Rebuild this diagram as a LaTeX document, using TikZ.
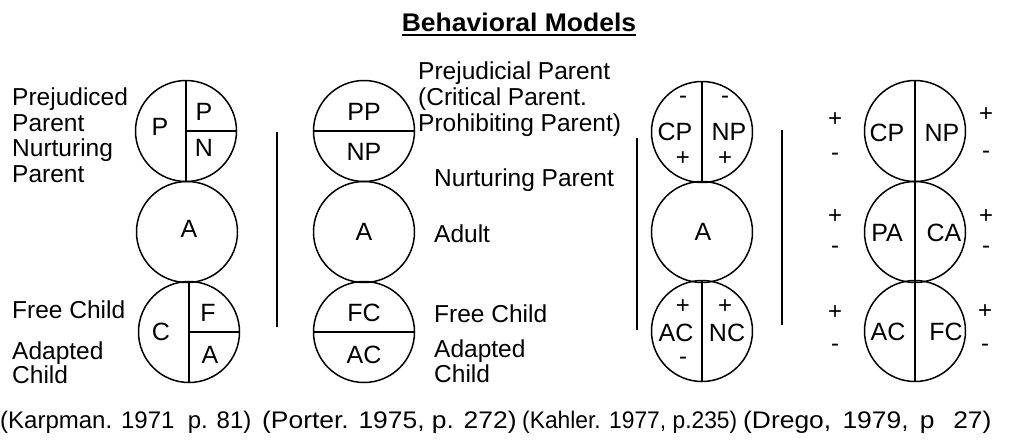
\documentclass[tikz,border=0pt]{standalone}
\usepackage{fontspec}
\setmainfont{Liberation Sans}
\newfontfamily\wideA{Liberation Sans}[FakeStretch=1.10]
\newfontfamily\narrowA{Liberation Sans}[FakeStretch=0.95]
\newfontfamily\wideT{Liberation Sans}[FakeStretch=1.04]
\begin{document}
\begin{tikzpicture}[x=1pt,y=-1pt,
  circ/.style={circle,draw,line width=1.5pt,minimum size=101pt,inner sep=0pt},
  div/.style={line width=1.8pt},
  sepline/.style={line width=1.5pt},
  lbl/.style={anchor=base west,inner sep=0pt,font=\fontsize{24.5}{26}\selectfont},
  ltr/.style={inner sep=0pt,font=\fontsize{25}{26}\selectfont},
  sgn/.style={inner sep=0pt,font=\fontsize{24}{26}\selectfont},
  cite/.style={anchor=base west,inner sep=0pt,font=\fontsize{24}{26}\selectfont}]
\useasboundingbox (0,0) rectangle (1015,440);

% title
\node[inner sep=0pt,font=\wideT\bfseries\fontsize{25.5}{26}\selectfont] (title) at (519,22) {Behavioral Models};
\draw[line width=1.8pt] ([yshift=-3.5pt]title.base west) -- ([yshift=-3.5pt]title.base east);

% ---------- Karpman ----------
\node[circ] (k1) at (186,131) {};
\node[circ] (k2) at (187,232) {};
\node[circ] (k3) at (189,332) {};
\draw[div] (k1.north) -- (k1.south);
\draw[div] (k1.center) -- (k1.east);
\draw[div] (k3.north) -- (k3.south);
\draw[div] (k3.center) -- (k3.east);
\node[ltr] (kP) at (160,127) {P};
\node[ltr] (kPP) at (204,112) {P};
\node[ltr] (kN) at (204,148) {N};
\node[ltr] (kA) at (189,229) {A};
\node[ltr] (kC) at (161,332) {C};
\node[ltr] (kF) at (208,313) {F};
\node[ltr] (kAA) at (210,355) {A};
\node[lbl] (kl1) at (12,105) {Prejudiced};
\node[lbl] (kl2) at (12,131) {Parent};
\node[lbl] (kl3) at (12,156) {Nurturing};
\node[lbl] (kl4) at (12,182) {Parent};
\node[lbl] (kl5) at (12,318) {Free Child};
\node[lbl] (kl6) at (12,359) {Adapted};
\node[lbl] (kl7) at (12,383) {Child};

% ---------- Porter ----------
\node[circ] (p1) at (364,131) {};
\node[circ] (p2) at (364,232) {};
\node[circ] (p3) at (364,332) {};
\draw[div] (p1.west) -- (p1.east);
\draw[div] (p3.west) -- (p3.east);
\node[ltr] (pPP) at (364,112) {PP};
\node[ltr] (pNP) at (364,152) {NP};
\node[ltr] (pA) at (364,232) {A};
\node[ltr] (pFC) at (364,313) {FC};
\node[ltr] (pAC) at (364,355) {AC};
\coordinate (s1a) at (277,132);
\coordinate (s1b) at (277,327);
\draw[sepline] (s1a) -- (s1b);
\node[lbl] (pl1) at (418,79) {Prejudicial Parent};
\node[lbl] (pl2) at (418,105) {(Critical Parent.};
\node[lbl] (pl3) at (418,131) {Prohibiting Parent)};
\node[lbl] (pl4) at (434,186) {Nurturing Parent};
\node[lbl] (pl5) at (434,242) {Adult};
\node[lbl] (pl6) at (434,322) {Free Child};
\node[lbl] (pl7) at (434,357) {Adapted};
\node[lbl] (pl8) at (434,382) {Child};

% ---------- Kahler ----------
\node[circ] (c1) at (702,132) {};
\node[circ] (c2) at (702,232) {};
\node[circ] (c3) at (702,331) {};
\draw[div] (c1.north) -- (c1.south);
\draw[div] (c3.north) -- (c3.south);
\node[sgn] (cm1) at (683,100) {-};
\node[sgn] (cm2) at (725,100) {-};
\node[ltr] (cCP) at (675,132) {CP};
\node[ltr] (cNP) at (729,132) {NP};
\node[sgn] (cp1) at (683,159) {+};
\node[sgn] (cp2) at (725,159) {+};
\node[ltr] (cA) at (703,232) {A};
\node[sgn] (cp3) at (683,307) {+};
\node[sgn] (cp4) at (725,307) {+};
\node[ltr] (cAC) at (676,333) {AC};
\node[ltr] (cNC) at (727,333) {NC};
\node[sgn] (cm3) at (683,361) {-};
\coordinate (s2a) at (637,138);
\coordinate (s2b) at (637,330);
\draw[sepline] (s2a) -- (s2b);

% ---------- Drego ----------
\node[circ] (d1) at (915,131) {};
\node[circ] (d2) at (915,232) {};
\node[circ] (d3) at (915,331) {};
\draw[div] (d1.north) -- (d3.south);
\node[ltr] (dCP) at (887,133) {CP};
\node[ltr] (dNP) at (942,133) {NP};
\node[ltr] (dPA) at (887,233) {PA};
\node[ltr] (dCA) at (944,233) {CA};
\node[ltr] (dAC) at (888,332) {AC};
\node[ltr] (dFC) at (946,332) {FC};
\node[sgn] (dl1) at (835,120) {+};
\node[sgn] (dl2) at (835,157) {-};
\node[sgn] (dr1) at (986,115) {+};
\node[sgn] (dr2) at (986,155) {-};
\node[sgn] (dl3) at (835,217) {+};
\node[sgn] (dl4) at (835,250) {-};
\node[sgn] (dr3) at (986,217) {+};
\node[sgn] (dr4) at (986,250) {-};
\node[sgn] (dl5) at (835,313) {+};
\node[sgn] (dl6) at (835,348) {-};
\node[sgn] (dr5) at (985,312) {+};
\node[sgn] (dr6) at (985,348) {-};
\coordinate (s3a) at (782,130);
\coordinate (s3b) at (782,325);
\draw[sepline] (s3a) -- (s3b);

% ---------- citations ----------
\node[cite] (r1) at (0,428) {(Karpman. 1971 \ p. 81)};
\node[cite] (r2) at (262,428) {\wideA (Porter. 1975, p. 272)};
\node[cite] (r3) at (522,428) {\narrowA (Kahler. 1977, p.235)};
\node[cite] (r4) at (743,428) {\wideA (Drego, \,1979, \,p \ \,27)};
\end{tikzpicture}
\end{document}
